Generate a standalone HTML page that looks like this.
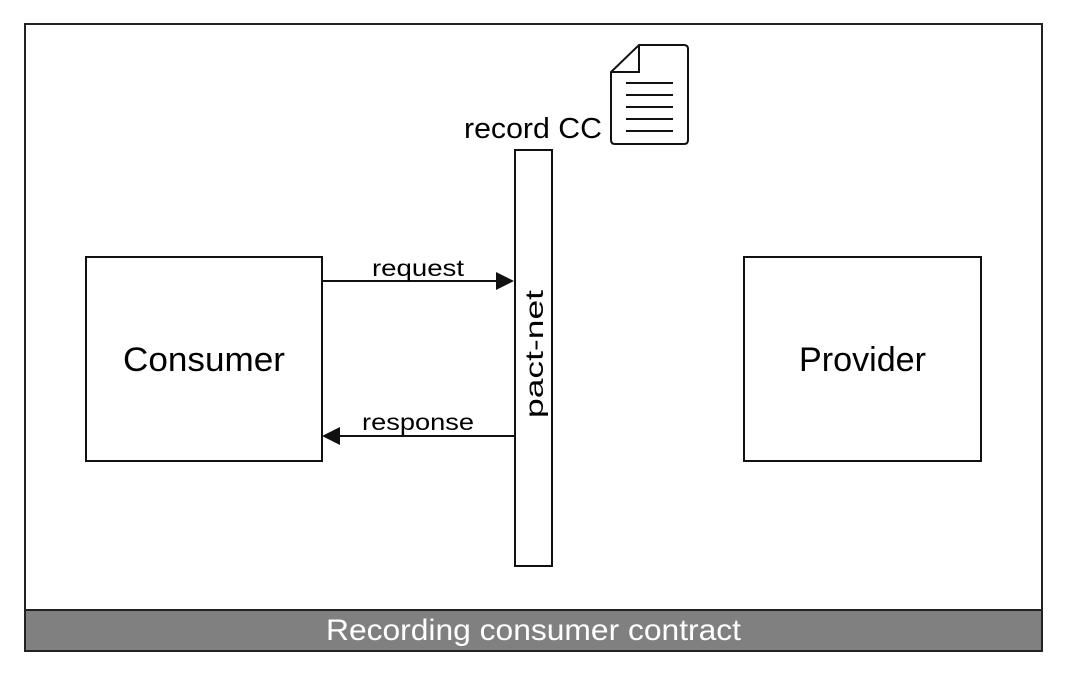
<!DOCTYPE html>
<html><head><style>body{margin:0;background:#fff}</style></head><body>
<svg width="1066" height="676" xmlns="http://www.w3.org/2000/svg" font-family="Liberation Sans, sans-serif">
<rect x="0" y="0" width="1066" height="676" fill="#fff"/>
<rect x="25" y="24" width="1017" height="627" fill="#fff" stroke="#222" stroke-width="2"/>
<rect x="25" y="610" width="1017" height="41" fill="#808080" stroke="#222" stroke-width="2"/>
<text x="326" y="640" font-size="30" fill="#fff" textLength="415" lengthAdjust="spacingAndGlyphs">Recording consumer contract</text>
<rect x="86" y="257" width="236" height="204" fill="#fff" stroke="#111" stroke-width="2"/>
<text x="123" y="371" font-size="34" textLength="162" lengthAdjust="spacingAndGlyphs">Consumer</text>
<rect x="744" y="257" width="237" height="204" fill="#fff" stroke="#111" stroke-width="2"/>
<text x="799" y="371" font-size="34" textLength="127" lengthAdjust="spacingAndGlyphs">Provider</text>
<rect x="515" y="150" width="37" height="416" fill="#fff" stroke="#111" stroke-width="2"/>
<text transform="translate(543,418) rotate(-90)" font-size="25" textLength="128" lengthAdjust="spacingAndGlyphs">pact-net</text>
<line x1="322" y1="281" x2="498" y2="281" stroke="#111" stroke-width="2"/>
<polygon points="496,272 514,281 496,290" fill="#111"/>
<text x="372" y="276" font-size="23" textLength="92" lengthAdjust="spacingAndGlyphs">request</text>
<line x1="338" y1="436" x2="515" y2="436" stroke="#111" stroke-width="2"/>
<polygon points="340,427 322,436 340,445" fill="#111"/>
<text x="362" y="430" font-size="23" textLength="112" lengthAdjust="spacingAndGlyphs">response</text>
<text x="464" y="138" font-size="29" textLength="138" lengthAdjust="spacingAndGlyphs">record CC</text>
<path d="M639,45 L684,45 Q688,45 688,49 L688,140 Q688,144 684,144 L615,144 Q611,144 611,140 L611,72 Z" fill="#fff" stroke="#111" stroke-width="2"/>
<path d="M611,72 L639,72 L639,45" fill="none" stroke="#111" stroke-width="2"/>
<g stroke="#111" stroke-width="2">
<line x1="626" y1="83" x2="673" y2="83"/><line x1="626" y1="95" x2="673" y2="95"/>
<line x1="626" y1="107" x2="673" y2="107"/><line x1="626" y1="119" x2="673" y2="119"/>
<line x1="626" y1="131" x2="673" y2="131"/></g>
</svg>
</body></html>
